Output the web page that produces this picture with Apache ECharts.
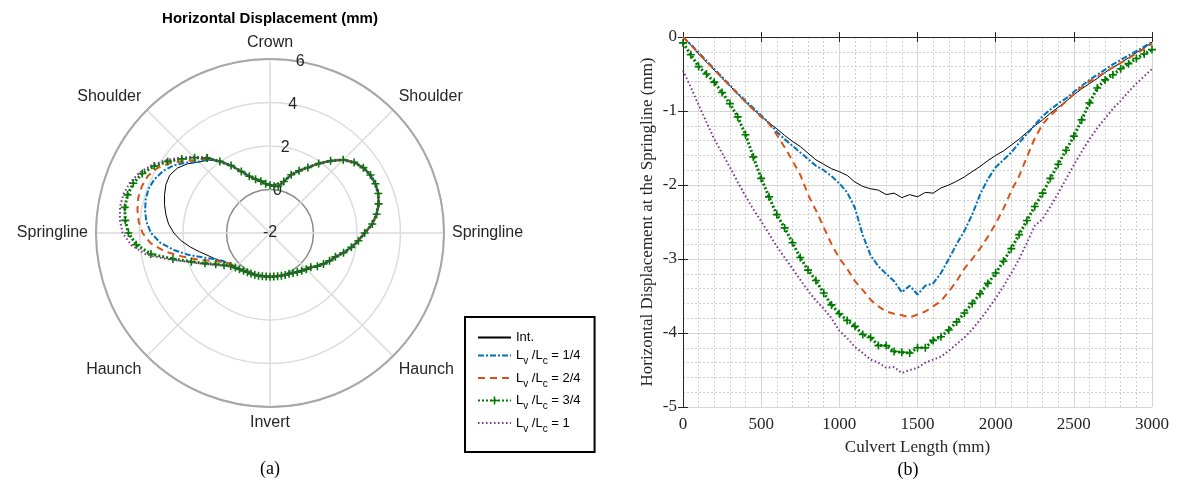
<!DOCTYPE html>
<html lang="en">
<head>
  <meta charset="UTF-8">
  <title>Horizontal displacement</title>
  <script src="https://cdn.jsdelivr.net/npm/echarts@6/dist/echarts.min.js"></script>
  <style>html,body{margin:0;padding:0;background:#fff;}</style>
</head>
<body>
<div id="main" style="width:1177px;height:485px;"></div>
<script>
  // series names + legend ratio text
  var seriesNames = ['Int.', 'Lv/Lc = 1/4', 'Lv/Lc = 2/4', 'Lv/Lc = 3/4', 'Lv/Lc = 1'];
  var ratioText = ['', '1/4', '2/4', '3/4', '1'];
  var angleLabels = ['Springline', 'Shoulder', 'Crown', 'Shoulder', 'Springline', 'Haunch', 'Invert', 'Haunch'];

  // (a) polar plot: left lobe differs per case, the rest is shared
  var lobeAngles = [130, 135, 140, 145, 150, 155, 160, 165, 170, 175, 180, 185, 190, 195, 200, 205, 210, 215, 220];
  var lobeInt = [2.38, 2.62, 2.95, 3.20, 3.32, 3.28, 3.16, 3.02, 2.86, 2.68, 2.42, 2.10, 1.72, 1.35, 1.03, 0.80, 0.58, 0.42, 0.30];
  var lobeQ1  = [2.45, 2.63, 3.03, 3.42, 3.68, 3.86, 3.94, 3.92, 3.83, 3.70, 3.47, 3.07, 2.50, 1.88, 1.28, 0.84, 0.55, 0.38, 0.28];
  var lobeQ2  = [2.47, 2.75, 3.15, 3.60, 3.98, 4.20, 4.27, 4.27, 4.19, 4.06, 3.86, 3.50, 2.90, 2.18, 1.55, 1.02, 0.64, 0.40, 0.27];
  var lobeQ3  = [2.50, 2.90, 3.30, 3.74, 4.15, 4.48, 4.69, 4.78, 4.78, 4.68, 4.51, 4.17, 3.56, 2.62, 1.85, 1.30, 0.88, 0.58, 0.36];
  var lobeQ4  = [2.52, 2.95, 3.40, 3.84, 4.26, 4.60, 4.84, 4.97, 5.00, 4.93, 4.78, 4.40, 3.76, 2.75, 1.90, 1.35, 0.93, 0.62, 0.40];

  var commonAngles = [225, 230, 235, 240, 245, 250, 255, 260, 265, 270, 275, 280, 285, 290, 295, 300, 305, 310, 315, 320,
                      325, 330, 335, 340, 345, 350, 355, 0, 5, 10, 15, 20, 25, 30, 35, 40, 45, 50, 55, 60,
                      65, 70, 75, 80, 85, 90, 95, 100, 105, 110, 115, 120, 125];
  var commonValues = [0.25, 0.18, 0.12, 0.08, 0.06, 0.04, 0.03, 0.02, 0.01, 0.01, 0.01, 0.02, 0.03, 0.05, 0.07, 0.12, 0.19, 0.27, 0.36, 0.45,
                      0.66, 0.84, 1.02, 1.20, 1.50, 1.80, 2.08, 2.35, 2.72, 2.98, 3.17, 3.30, 3.35, 3.33, 3.24, 3.05, 2.76, 2.33, 1.90, 1.48,
                      1.16, 0.85, 0.45, 0.18, 0.16, 0.20, 0.27, 0.42, 0.56, 0.78, 1.12, 1.58, 2.02];

  // (b) displacement along the culvert
  var culvertLength = [0, 50, 100, 150, 200, 250, 300, 350, 400, 450, 500, 550, 600, 650, 700, 750, 800, 850, 900, 950,
                       1000, 1050, 1100, 1150, 1200, 1250, 1300, 1350, 1400, 1450, 1500, 1550, 1600, 1650, 1700, 1750, 1800, 1850, 1900, 1950,
                       2000, 2050, 2100, 2150, 2200, 2250, 2300, 2350, 2400, 2450, 2500, 2550, 2600, 2650, 2700, 2750, 2800, 2850, 2900, 2950, 3000];
  var dispInt = [0, -0.11, -0.23, -0.34, -0.45, -0.56, -0.66, -0.77, -0.88, -0.98,
                 -1.07, -1.16, -1.24, -1.33, -1.41, -1.48, -1.57, -1.66, -1.72, -1.78,
                 -1.82, -1.87, -1.96, -2.02, -2.05, -2.07, -2.13, -2.11, -2.17, -2.13,
                 -2.16, -2.10, -2.11, -2.04, -2.00, -1.95, -1.89, -1.82, -1.75, -1.67,
                 -1.60, -1.54, -1.46, -1.38, -1.29, -1.20, -1.12, -1.03, -0.95, -0.87,
                 -0.78, -0.70, -0.63, -0.56, -0.48, -0.41, -0.35, -0.28, -0.21, -0.15, -0.07];
  var dispQ1 = [0, -0.10, -0.21, -0.32, -0.43, -0.54, -0.65, -0.76, -0.86, -0.96,
                -1.06, -1.16, -1.28, -1.38, -1.47, -1.56, -1.65, -1.74, -1.80, -1.88,
                -1.98, -2.10, -2.31, -2.68, -2.95, -3.10, -3.20, -3.30, -3.45, -3.36,
                -3.48, -3.36, -3.33, -3.19, -3.00, -2.80, -2.62, -2.40, -2.13, -1.92,
                -1.76, -1.66, -1.56, -1.43, -1.31, -1.19, -1.07, -0.98, -0.90, -0.83,
                -0.74, -0.66, -0.58, -0.51, -0.44, -0.37, -0.31, -0.25, -0.19, -0.13, -0.07];
  var dispQ2 = [0, -0.11, -0.22, -0.33, -0.44, -0.55, -0.66, -0.77, -0.88, -0.98,
                -1.08, -1.17, -1.32, -1.49, -1.67, -1.86, -2.13, -2.34, -2.57, -2.80,
                -2.99, -3.13, -3.30, -3.42, -3.55, -3.64, -3.71, -3.74, -3.76, -3.79,
                -3.75, -3.71, -3.64, -3.57, -3.44, -3.30, -3.13, -3.00, -2.86, -2.70,
                -2.52, -2.32, -2.08, -1.88, -1.62, -1.37, -1.18, -1.06, -0.97, -0.87,
                -0.77, -0.68, -0.60, -0.54, -0.48, -0.41, -0.35, -0.29, -0.22, -0.16, -0.09];
  var dispQ3 = [-0.08, -0.24, -0.40, -0.50, -0.61, -0.75, -0.90, -1.08, -1.32, -1.62,
                -1.91, -2.16, -2.40, -2.58, -2.78, -2.98, -3.15, -3.29, -3.46, -3.62,
                -3.74, -3.83, -3.91, -4.02, -4.06, -4.17, -4.17, -4.25, -4.26, -4.27,
                -4.20, -4.20, -4.10, -4.05, -3.96, -3.85, -3.73, -3.60, -3.47, -3.33,
                -3.19, -3.03, -2.86, -2.67, -2.48, -2.29, -2.11, -1.91, -1.72, -1.53,
                -1.34, -1.12, -0.89, -0.69, -0.58, -0.51, -0.43, -0.36, -0.29, -0.23, -0.17];
  var dispQ4 = [-0.45, -0.68, -0.92, -1.15, -1.38, -1.57, -1.76, -1.96, -2.15, -2.33,
                -2.49, -2.66, -2.83, -2.98, -3.13, -3.28, -3.43, -3.56, -3.67, -3.80,
                -3.97, -4.07, -4.19, -4.27, -4.36, -4.40, -4.47, -4.46, -4.54, -4.50,
                -4.47, -4.40, -4.36, -4.32, -4.24, -4.15, -4.06, -3.95, -3.82, -3.68,
                -3.53, -3.37, -3.19, -3.00, -2.78, -2.55, -2.46, -2.29, -2.11, -1.92,
                -1.73, -1.55, -1.38, -1.23, -1.10, -0.97, -0.86, -0.74, -0.63, -0.53, -0.43];

  var colors = ['#000000', '#0072BD', '#D95319', '#007a00', '#7E2F8E'];
  var dashes = ['solid', [6, 2, 2, 2], [7, 5], [2, 2], [1.5, 2.5]];
  var widths = [1, 2, 2, 3, 2];
  var plusSymbol = 'path://M4 0h2v4h4v2h-4v4h-2v-4h-4v-2h4z';

  function polarData(lobe) {
    var d = [];
    for (var i = 0; i < lobe.length; i++) d.push([lobe[i], lobeAngles[i]]);
    for (var j = 0; j < commonValues.length; j++) d.push([commonValues[j], commonAngles[j]]);
    d.push([lobe[0], lobeAngles[0]]);
    return d;
  }
  function lineData(vals) {
    var d = [];
    for (var i = 0; i < vals.length; i++) d.push([culvertLength[i], vals[i]]);
    return d;
  }

  var lobes = [lobeInt, lobeQ1, lobeQ2, lobeQ3, lobeQ4];
  var disps = [dispInt, dispQ1, dispQ2, dispQ3, dispQ4];
  var series = [];
  for (var k = 0; k < 5; k++) {
    var common = {
      name: seriesNames[k],
      type: 'line',
      color: colors[k],
      symbol: k === 3 ? plusSymbol : 'none',
      symbolSize: 8,
      showSymbol: k === 3,
      lineStyle: { color: colors[k], width: widths[k], type: dashes[k] },
      itemStyle: { color: colors[k] },
      emphasis: { disabled: true },
      z: 2 + k
    };
    series.push(Object.assign({}, common, {
      coordinateSystem: 'polar', polarIndex: 0, data: polarData(lobes[k])
    }));
    series.push(Object.assign({}, common, {
      xAxisIndex: 0, yAxisIndex: 0, data: lineData(disps[k])
    }));
  }

  // legend: line only, except the marker case
  var legendData = seriesNames.map(function (n, i) {
    return i === 3 ? { name: n } : { name: n, itemStyle: { opacity: 0 } };
  });

  var serif = 'Liberation Serif';
  var sans = 'Liberation Sans';
  var axisGray = '#262626';

  var myChart = echarts.init(document.getElementById('main'));
  var option = {
    animation: false,
    textStyle: { fontFamily: sans },
    graphic: [
      { type: 'text', x: 270, y: 19, style: { text: 'Horizontal Displacement (mm)', font: 'bold 15px ' + sans, fill: '#000', textAlign: 'center', textVerticalAlign: 'middle' } },
      { type: 'text', x: 270, y: 469, style: { text: '(a)', font: '18px ' + serif, fill: '#000', textAlign: 'center', textVerticalAlign: 'middle' } },
      { type: 'text', x: 908, y: 470, style: { text: '(b)', font: '18px ' + serif, fill: '#000', textAlign: 'center', textVerticalAlign: 'middle' } }
    ],
    legend: {
      data: legendData,
      orient: 'vertical',
      left: 465,
      top: 317,
      padding: [14, 14, 18, 12],
      itemGap: 5,
      itemWidth: 33,
      itemHeight: 10,
      borderColor: '#000',
      borderWidth: 2,
      backgroundColor: '#fff',
      selectedMode: false,
      formatter: function (name) {
        var i = seriesNames.indexOf(name);
        if (i === 0) return '{n|Int.}';
        return '{n|L}{s|v}{n| /L}{s|c}{n| = ' + ratioText[i] + '}';
      },
      textStyle: {
        color: '#000',
        rich: {
          n: { fontSize: 13, fontFamily: sans, color: '#000', lineHeight: 22, verticalAlign: 'middle' },
          s: { fontSize: 10, fontFamily: sans, color: '#000', lineHeight: 10, verticalAlign: 'bottom' }
        }
      }
    },
    polar: [
      { center: [270, 233], radius: 174 },
      { center: [270, 233], radius: 174 }
    ],
    angleAxis: [
      {
        polarIndex: 0, type: 'value', min: 0, max: 360, interval: 45,
        startAngle: 0, clockwise: false,
        axisLine: { lineStyle: { color: '#a9a9a9', width: 2 } },
        axisTick: { show: false },
        axisLabel: {
          margin: 8, fontSize: 16, color: axisGray, fontFamily: sans,
          formatter: function (v) { return v >= 360 ? '' : angleLabels[Math.round(v / 45)]; }
        },
        splitLine: { lineStyle: { color: '#dcdcdc', width: 1.5 } }
      },
      { polarIndex: 1, type: 'value', min: 0, max: 360, startAngle: 80, clockwise: false, show: false }
    ],
    radiusAxis: [
      {
        polarIndex: 0, type: 'value', min: -2, max: 6, interval: 2,
        axisLine: { show: false }, axisTick: { show: false }, axisLabel: { show: false },
        splitLine: { lineStyle: { color: ['#ffffff', '#8c8c8c', '#dcdcdc', '#dcdcdc', '#a9a9a9'], width: 1.5 } }
      },
      {
        polarIndex: 1, type: 'value', min: -2, max: 6, interval: 2,
        axisLine: { show: false }, axisTick: { show: false }, splitLine: { show: false },
        axisLabel: { margin: 0, align: 'center', verticalAlign: 'middle', fontSize: 16, color: axisGray, fontFamily: sans, showMinLabel: true, showMaxLabel: true }
      }
    ],
    grid: { left: 683, right: 25, top: 37, bottom: 78 },
    xAxis: [
      {
        type: 'value', min: 0, max: 3000, interval: 500,
        name: 'Culvert Length (mm)', nameLocation: 'middle', nameGap: 32,
        nameTextStyle: { fontFamily: serif, fontSize: 17, color: axisGray },
        axisLine: { lineStyle: { color: axisGray, width: 1 } },
        axisTick: { inside: true, length: 5, lineStyle: { color: axisGray } },
        axisLabel: { fontFamily: serif, fontSize: 17, color: axisGray, margin: 9, formatter: function (v) { return String(v); } },
        splitLine: { show: true, lineStyle: { color: '#d6d6d6', width: 1 } },
        minorTick: { show: false, splitNumber: 5 },
        minorSplitLine: { show: true, lineStyle: { color: '#cfcfcf', width: 1, type: [2, 2] } }
      },
      {
        type: 'value', min: 0, max: 3000, interval: 500, position: 'top',
        axisLine: { lineStyle: { color: axisGray, width: 1 } },
        axisTick: { inside: true, length: 5, lineStyle: { color: axisGray } },
        axisLabel: { show: false }, splitLine: { show: false }
      }
    ],
    yAxis: [
      {
        type: 'value', min: -5, max: 0, interval: 1,
        name: 'Horizontal Displacement at the Springline (mm)', nameLocation: 'middle', nameGap: 27,
        nameTextStyle: { fontFamily: serif, fontSize: 17, color: axisGray },
        axisLine: { show: true, lineStyle: { color: axisGray, width: 1 } },
        axisTick: { show: true, inside: true, length: 5, lineStyle: { color: axisGray } },
        axisLabel: { fontFamily: serif, fontSize: 17, color: axisGray, margin: 6 },
        splitLine: { show: true, lineStyle: { color: '#d6d6d6', width: 1 } },
        minorTick: { show: false, splitNumber: 5 },
        minorSplitLine: { show: true, lineStyle: { color: '#cfcfcf', width: 1, type: [2, 2] } }
      },
      {
        type: 'value', min: -5, max: 0, interval: 1, position: 'right',
        axisLine: { show: true, lineStyle: { color: axisGray, width: 1 } },
        axisTick: { show: true, inside: true, length: 5, lineStyle: { color: axisGray } },
        axisLabel: { show: false }, splitLine: { show: false }
      }
    ],
    series: series
  };

  myChart.setOption(option);
</script>
</body>
</html>
